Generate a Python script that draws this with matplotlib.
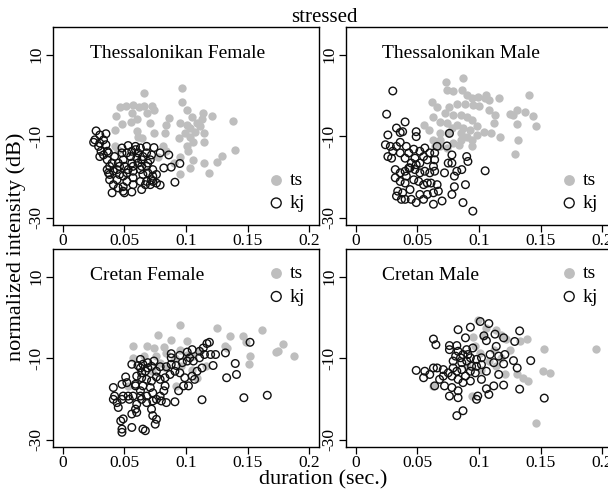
import matplotlib
matplotlib.use("Agg")
import matplotlib.pyplot as plt

plt.rcParams['font.family'] = ['Liberation Serif', 'DejaVu Serif']

# duration (sec.) and normalized intensity (dB)
tf_ts_x = [0.066, 0.0965, 0.043, 0.046, 0.051, 0.057, 0.062, 0.066, 0.072, 0.074,
           0.056, 0.060, 0.055, 0.068, 0.071, 0.086, 0.084, 0.097, 0.101, 0.105,
           0.114, 0.121, 0.138, 0.113, 0.109, 0.101, 0.095, 0.103, 0.111, 0.107,
           0.115, 0.099, 0.103, 0.094, 0.106, 0.115, 0.101, 0.042, 0.060, 0.061,
           0.064, 0.074, 0.083, 0.048, 0.140, 0.129, 0.125, 0.115, 0.119, 0.103,
           0.106, 0.095, 0.090, 0.102, 0.084, 0.081, 0.077, 0.095, 0.042, 0.045]
tf_ts_y = [0.5, 1.9, -5.0, -2.9, -2.6, -2.4, -2.9, -2.6, -2.6, -3.6,
           -4.4, -5.9, -6.5, -4.2, -6.7, -5.6, -7.2, -1.5, -3.6, -5.2,
           -4.2, -5.0, -6.2, -5.9, -6.8, -7.2, -6.7, -8.0, -7.6, -8.9,
           -9.3, -9.3, -10.1, -10.5, -11.5, -11.5, -12.5, -8.5, -8.7, -10.1,
           -10.5, -9.3, -9.1, -7.0, -13.3, -14.8, -16.4, -16.7, -19.0, -17.8,
           -15.9, -19.4, -16.6, -13.7, -13.7, -12.5, -15.0, -15.0, -12.5, -13.3]
tf_kj_x = [0.027, 0.026, 0.030, 0.035, 0.033, 0.029, 0.031, 0.035, 0.037, 0.036,
           0.038, 0.037, 0.038, 0.041, 0.040, 0.045, 0.049, 0.050, 0.056, 0.057,
           0.064, 0.063, 0.068, 0.072, 0.076, 0.079, 0.091, 0.095, 0.088, 0.082,
           0.086, 0.079, 0.074, 0.068, 0.063, 0.053, 0.059, 0.048, 0.042, 0.045,
           0.050, 0.056, 0.060, 0.065, 0.071, 0.068, 0.063, 0.057, 0.052, 0.046,
           0.041, 0.044, 0.052, 0.057, 0.065, 0.069, 0.073, 0.073, 0.076, 0.030,
           0.033, 0.036, 0.030, 0.025, 0.061, 0.064, 0.055, 0.049, 0.046, 0.044,
           0.040, 0.068, 0.072, 0.059, 0.056, 0.052, 0.048, 0.061, 0.064, 0.069,
           0.057, 0.053, 0.049, 0.038, 0.036, 0.071, 0.073, 0.067, 0.049]
tf_kj_y = [-8.7, -10.9, -9.7, -9.4, -10.9, -12.5, -13.7, -12.1, -14.1, -15.8,
           -17.4, -19.0, -20.7, -21.9, -23.9, -22.7, -23.5, -23.9, -23.7, -21.9,
           -23.1, -21.1, -21.1, -20.7, -21.5, -22.0, -21.3, -16.7, -17.6, -17.8,
           -14.6, -14.1, -12.8, -12.5, -12.9, -12.3, -13.3, -14.1, -15.0, -16.6,
           -17.4, -16.6, -15.4, -15.0, -15.8, -17.4, -18.2, -18.6, -19.0, -19.4,
           -18.6, -20.7, -21.1, -20.2, -19.4, -19.0, -18.2, -19.8, -19.4, -15.0,
           -14.6, -13.7, -11.7, -11.5, -16.6, -17.4, -15.0, -15.8, -17.4, -18.2,
           -16.6, -14.1, -14.6, -12.5, -13.7, -14.1, -12.9, -14.1, -15.8, -16.6,
           -17.4, -18.2, -19.8, -19.4, -18.2, -21.9, -21.1, -21.9, -22.4]

tm_ts_x = [0.087, 0.073, 0.074, 0.079, 0.086, 0.090, 0.094, 0.099, 0.105, 0.108,
           0.116, 0.106, 0.141, 0.062, 0.066, 0.076, 0.082, 0.089, 0.095, 0.100,
           0.108, 0.113, 0.125, 0.131, 0.137, 0.144, 0.146, 0.128, 0.131, 0.132,
           0.129, 0.117, 0.110, 0.104, 0.098, 0.094, 0.090, 0.085, 0.079, 0.072,
           0.063, 0.068, 0.074, 0.082, 0.087, 0.093, 0.098, 0.090, 0.085, 0.079,
           0.075, 0.068, 0.063, 0.055, 0.059, 0.068, 0.094, 0.064, 0.074, 0.084,
           0.068, 0.078, 0.112, 0.094, 0.085]
tm_ts_y = [4.3, 3.3, 1.3, 1.1, 1.3, 0.1, -0.7, -0.3, -0.7, -1.1,
           -0.6, 0.1, 0.1, -1.5, -2.8, -2.8, -2.0, -2.0, -2.4, -2.6,
           -3.6, -4.8, -4.6, -3.6, -4.0, -5.0, -7.6, -4.8, -7.0, -10.9,
           -14.3, -10.2, -9.3, -8.9, -7.6, -6.0, -5.2, -4.8, -4.8, -4.4,
           -5.2, -6.4, -6.8, -7.2, -8.0, -8.5, -9.7, -10.1, -10.9, -11.7,
           -9.3, -9.3, -10.9, -7.2, -8.5, -12.5, -12.5, -12.5, -12.9, -12.1,
           -10.9, -8.0, -6.8, -10.9, -9.3]
tm_kj_x = [0.030, 0.025, 0.040, 0.033, 0.036, 0.038, 0.026, 0.049, 0.049, 0.024,
           0.028, 0.033, 0.030, 0.029, 0.036, 0.041, 0.043, 0.040, 0.047, 0.052,
           0.048, 0.045, 0.052, 0.055, 0.056, 0.058, 0.064, 0.064, 0.063, 0.064,
           0.060, 0.056, 0.052, 0.048, 0.044, 0.040, 0.036, 0.032, 0.032, 0.036,
           0.040, 0.041, 0.047, 0.051, 0.055, 0.058, 0.061, 0.066, 0.067, 0.063,
           0.058, 0.052, 0.049, 0.045, 0.040, 0.037, 0.033, 0.034, 0.038, 0.044,
           0.055, 0.063, 0.070, 0.078, 0.087, 0.095, 0.080, 0.089, 0.080, 0.086,
           0.082, 0.075, 0.078, 0.072, 0.078, 0.074, 0.076, 0.090, 0.091, 0.105,
           0.066, 0.060, 0.036, 0.026, 0.043, 0.049]
tm_kj_y = [1.1, -4.6, -6.5, -8.0, -9.1, -8.9, -9.7, -8.9, -10.1, -12.1,
           -12.5, -12.5, -13.7, -15.4, -14.1, -12.5, -14.1, -15.4, -13.2, -13.7,
           -15.4, -16.6, -16.6, -15.0, -12.9, -15.8, -14.1, -15.8, -17.4, -18.6,
           -19.0, -18.6, -19.0, -18.2, -17.8, -18.6, -19.0, -18.2, -20.2, -21.1,
           -21.5, -19.8, -20.7, -21.1, -21.9, -21.5, -21.5, -21.9, -23.5, -23.9,
           -24.3, -24.3, -26.3, -25.5, -25.5, -25.5, -24.7, -23.5, -23.9, -23.1,
           -25.5, -26.7, -25.9, -24.3, -26.3, -28.4, -22.4, -21.9, -19.8, -18.2,
           -18.6, -16.6, -16.6, -19.0, -14.6, -12.4, -9.3, -15.0, -16.2, -18.5,
           -12.5, -14.1, -11.5, -15.0, -17.8, -17.0]

cf_ts_x = [0.095, 0.077, 0.125, 0.136, 0.146, 0.162, 0.179, 0.173, 0.175, 0.188,
           0.152, 0.151, 0.057, 0.068, 0.074, 0.082, 0.088, 0.101, 0.057, 0.066,
           0.076, 0.084, 0.091, 0.095, 0.101, 0.106, 0.111, 0.132, 0.133, 0.149,
           0.105, 0.109, 0.092, 0.084, 0.079, 0.096, 0.053, 0.116, 0.072]
cf_ts_y = [-1.8, -4.2, -2.6, -4.5, -4.5, -3.2, -6.4, -8.5, -8.3, -9.5,
           -9.5, -11.5, -7.1, -7.1, -7.5, -7.2, -5.6, -5.9, -9.9, -9.5,
           -9.5, -8.7, -9.9, -7.9, -9.1, -9.5, -8.3, -7.1, -7.5, -6.1,
           -12.8, -14.8, -16.8, -12.4, -11.3, -12.0, -16.8, -12.0, -13.2]
cf_kj_x = [0.152, 0.117, 0.119, 0.114, 0.111, 0.105, 0.101, 0.095, 0.088, 0.103,
           0.106, 0.111, 0.115, 0.120, 0.124, 0.122, 0.113, 0.109, 0.105, 0.099,
           0.095, 0.091, 0.092, 0.088, 0.087, 0.083, 0.079, 0.083, 0.082, 0.079,
           0.076, 0.073, 0.071, 0.072, 0.076, 0.076, 0.072, 0.069, 0.067, 0.064,
           0.063, 0.065, 0.069, 0.074, 0.079, 0.084, 0.088, 0.056, 0.063, 0.060,
           0.059, 0.063, 0.065, 0.068, 0.073, 0.064, 0.060, 0.059, 0.056, 0.060,
           0.068, 0.072, 0.073, 0.076, 0.075, 0.065, 0.067, 0.056, 0.049, 0.047,
           0.048, 0.048, 0.041, 0.042, 0.041, 0.044, 0.045, 0.048, 0.049, 0.053,
           0.054, 0.057, 0.063, 0.059, 0.052, 0.048, 0.051, 0.064, 0.068, 0.080,
           0.084, 0.091, 0.113, 0.094, 0.098, 0.102, 0.107, 0.133, 0.141, 0.140,
           0.132, 0.147, 0.166, 0.097, 0.101, 0.061]
cf_kj_y = [-6.1, -6.4, -6.1, -7.5, -8.3, -7.9, -8.5, -9.3, -8.9, -9.9,
           -10.7, -9.9, -9.1, -9.1, -9.1, -11.8, -12.4, -13.2, -14.4, -14.8,
           -13.6, -13.2, -11.8, -11.5, -14.0, -14.8, -15.2, -16.8, -18.0, -19.3,
           -20.1, -18.5, -17.2, -15.6, -14.6, -13.2, -12.0, -12.4, -13.2, -13.6,
           -12.4, -11.5, -11.1, -10.7, -12.1, -12.1, -9.9, -11.5, -10.3, -14.4,
           -16.4, -18.0, -16.8, -19.3, -20.5, -20.1, -21.3, -22.5, -23.7, -23.3,
           -20.9, -22.5, -24.1, -25.0, -26.2, -27.4, -27.8, -27.0, -24.9, -25.4,
           -27.4, -28.2, -17.2, -19.3, -20.1, -20.9, -22.1, -20.1, -19.3, -19.3,
           -20.1, -19.3, -19.3, -16.8, -16.0, -16.4, -14.6, -14.8, -15.2, -20.5,
           -20.9, -20.7, -20.2, -18.0, -16.8, -16.8, -15.2, -14.8, -14.0, -11.3,
           -8.7, -19.7, -19.1, -11.1, -10.7, -11.8]

cm_ts_x = [0.099, 0.106, 0.095, 0.103, 0.114, 0.118, 0.122, 0.125, 0.133, 0.139,
           0.153, 0.195, 0.152, 0.158, 0.136, 0.140, 0.131, 0.121, 0.114, 0.108,
           0.101, 0.097, 0.094, 0.146, 0.112, 0.090, 0.063, 0.102, 0.118]
cm_ts_y = [-0.6, -2.6, -4.8, -4.6, -3.0, -4.2, -5.4, -7.9, -5.9, -5.4,
           -7.7, -7.7, -13.2, -13.6, -14.8, -15.6, -14.0, -14.0, -12.0, -10.7,
           -8.7, -7.1, -19.3, -25.8, -7.9, -12.0, -16.8, -12.8, -9.9]
cm_kj_x = [0.101, 0.108, 0.093, 0.083, 0.133, 0.104, 0.089, 0.063, 0.065, 0.106,
           0.113, 0.120, 0.129, 0.114, 0.076, 0.082, 0.095, 0.076, 0.083, 0.090,
           0.087, 0.091, 0.093, 0.085, 0.081, 0.079, 0.086, 0.090, 0.098, 0.102,
           0.109, 0.116, 0.121, 0.112, 0.120, 0.128, 0.142, 0.131, 0.116, 0.120,
           0.112, 0.106, 0.099, 0.108, 0.098, 0.133, 0.153, 0.082, 0.087, 0.049,
           0.056, 0.060, 0.055, 0.066, 0.064, 0.068, 0.071, 0.075, 0.079, 0.072,
           0.078, 0.083, 0.076, 0.083, 0.083, 0.087, 0.093, 0.097, 0.102, 0.093,
           0.089, 0.078, 0.071, 0.063, 0.098, 0.102, 0.106, 0.094, 0.086, 0.082]
cm_kj_y = [-1.0, -1.5, -2.4, -3.0, -3.3, -4.5, -5.0, -5.3, -6.7, -5.7,
           -4.1, -5.0, -5.9, -7.1, -6.9, -6.9, -7.5, -7.9, -8.3, -7.9,
           -9.1, -9.1, -9.9, -9.9, -9.5, -10.7, -11.1, -10.7, -10.3, -9.9,
           -9.1, -9.5, -9.1, -11.1, -11.4, -10.6, -10.6, -12.4, -14.0, -16.6,
           -16.8, -17.5, -19.3, -18.9, -20.1, -17.6, -19.8, -24.1, -22.9, -13.0,
           -13.2, -14.0, -14.8, -12.4, -16.8, -15.2, -12.8, -13.6, -12.4, -16.8,
           -17.2, -18.0, -19.3, -19.7, -15.2, -16.0, -13.2, -13.6, -15.2, -15.6,
           -14.4, -14.4, -14.4, -12.4, -12.0, -11.6, -13.2, -12.0, -12.8, -13.2]

panel_titles = ["Thessalonikan Female", "Thessalonikan Male", "Cretan Female", "Cretan Male"]
x_ticks = [0, 0.05, 0.1, 0.15, 0.2]
x_tick_labels = ["0", "0.05", "0.1", "0.15", "0.2"]
y_ticks = [10, -10, -30]
y_tick_labels = ["10", "-10", "-30"]

panels = [
    (tf_ts_x, tf_ts_y, tf_kj_x, tf_kj_y),
    (tm_ts_x, tm_ts_y, tm_kj_x, tm_kj_y),
    (cf_ts_x, cf_ts_y, cf_kj_x, cf_kj_y),
    (cm_ts_x, cm_ts_y, cm_kj_x, cm_kj_y),
]

W, H = 608, 490
fig = plt.figure(figsize=(W / 100, H / 100), dpi=100)

lefts = [53, 346, 53, 346]
tops = [27, 27, 249, 249]
aw, ah = 266, 198

for i, (tsx, tsy, kjx, kjy) in enumerate(panels):
    ax = fig.add_axes([lefts[i] / W, 1 - (tops[i] + ah) / H, aw / W, ah / H])
    ax.scatter(tsx, tsy, s=36, c="#bebebe", linewidths=0, label="ts", zorder=2)
    ax.scatter(kjx, kjy, s=30, facecolors="none", edgecolors="#111111",
               linewidths=1.0, label="kj", zorder=3)
    ax.set_xlim(-0.008, 0.208)
    ax.set_ylim(-31.8, 16.8)
    ax.set_xticks(x_ticks)
    ax.set_xticklabels(x_tick_labels, fontsize=12.5)
    ax.set_yticks(y_ticks)
    ax.set_yticklabels(y_tick_labels, fontsize=12.5, rotation=90, va="center")
    ax.tick_params(direction="out", length=5, width=0.9, pad=1)
    for sp in ax.spines.values():
        sp.set_linewidth(1.0)
    ax.text(0.14 if i % 2 == 0 else 0.134, 0.843, panel_titles[i],
            transform=ax.transAxes, fontsize=14, va="baseline", ha="left")
    ly = 0.169 if i < 2 else 0.818
    ax.legend(loc="center left", bbox_to_anchor=(0.81, ly), frameon=False,
              fontsize=14, handlelength=0.8, handletextpad=0.3,
              borderpad=0, borderaxespad=0, labelspacing=0.3,
              scatterpoints=1, markerscale=1.3)

fig.text(0.533, 1 - 18 / H, "stressed", fontsize=15, ha="center", va="center")
fig.text(0.531, 1 - 480 / H, "duration (sec.)", fontsize=16, ha="center", va="center")
fig.text(16 / W, 1 - 247 / H, "normalized intensity (dB)", fontsize=16,
         ha="center", va="center", rotation=90)

fig.savefig("out.png", dpi=100)
